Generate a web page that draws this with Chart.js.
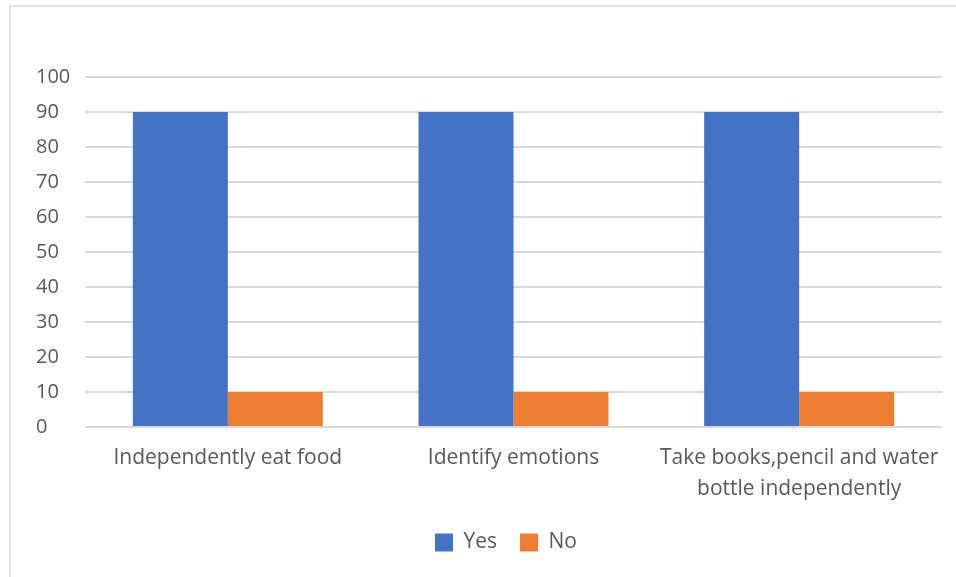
<!DOCTYPE html>
<html>
<head>
<meta charset="utf-8">
<script src="https://cdn.jsdelivr.net/npm/chart.js@4"></script>
<style>
  html, body { margin: 0; padding: 0; background: #fff; }
  #wrap { position: relative; width: 956px; height: 577px; overflow: hidden; }
  #frame {
    position: absolute; left: 9px; top: 5px; width: 1000px; height: 700px;
    border-top: 2px solid #e2e2e2; border-left: 2px solid #e2e2e2;
  }
  canvas { position: absolute; left: 0; top: 0; }
</style>
</head>
<body>
<div id="wrap">
  <div id="frame"></div>
  <canvas id="skillsChart" width="956" height="577"></canvas>
</div>
<script>
// Data
const categories = [
  'Independently eat food',
  'Identify emotions',
  ['Take books,pencil and water', 'bottle independently']
];
const yesValues = [90, 90, 90];
const noValues = [10, 10, 10];
const yMin = 0;
const yMax = 100;
const yStep = 10;

const textColor = '#595959';
const gridColor = '#d9d9d9';
const fontFamily = "'Open Sans', 'Noto Sans', sans-serif";

// nudge the legend to the right a little
const legendShift = {
  id: 'legendShift',
  afterLayout(chart) {
    const dx = 17;
    chart.legend.left += dx;
    chart.legend.right += dx;
  }
};

const skillsChart = new Chart(document.getElementById('skillsChart'), {
  type: 'bar',
  data: {
    labels: categories,
    datasets: [
      { label: 'Yes', data: yesValues, backgroundColor: '#4472c4' },
      { label: 'No', data: noValues, backgroundColor: '#ed7d31' }
    ]
  },
  options: {
    responsive: false,
    animation: false,
    devicePixelRatio: 1,
    datasets: {
      bar: { barPercentage: 1, categoryPercentage: 0.665 }
    },
    layout: {
      padding: { top: 77, right: 14, bottom: 14, left: 36 }
    },
    scales: {
      x: {
        grid: { display: false },
        border: { display: false },
        ticks: {
          color: textColor,
          font: { family: fontFamily, size: 21, lineHeight: 1.48 },
          padding: 7,
          maxRotation: 0
        },
        afterFit: (scale) => { scale.height = 82; }
      },
      y: {
        min: yMin,
        max: yMax,
        ticks: {
          stepSize: yStep,
          color: textColor,
          font: { family: fontFamily, size: 20 },
          crossAlign: 'far'
        },
        grid: { color: gridColor, lineWidth: 2, drawTicks: false },
        border: { display: false },
        afterFit: (scale) => { scale.width = 49; }
      }
    },
    plugins: {
      legend: {
        position: 'bottom',
        labels: {
          color: textColor,
          font: { family: fontFamily, size: 21 },
          boxWidth: 18,
          boxHeight: 18,
          padding: 23
        }
      },
      tooltip: { enabled: false }
    }
  },
  plugins: [legendShift]
});
</script>
</body>
</html>
